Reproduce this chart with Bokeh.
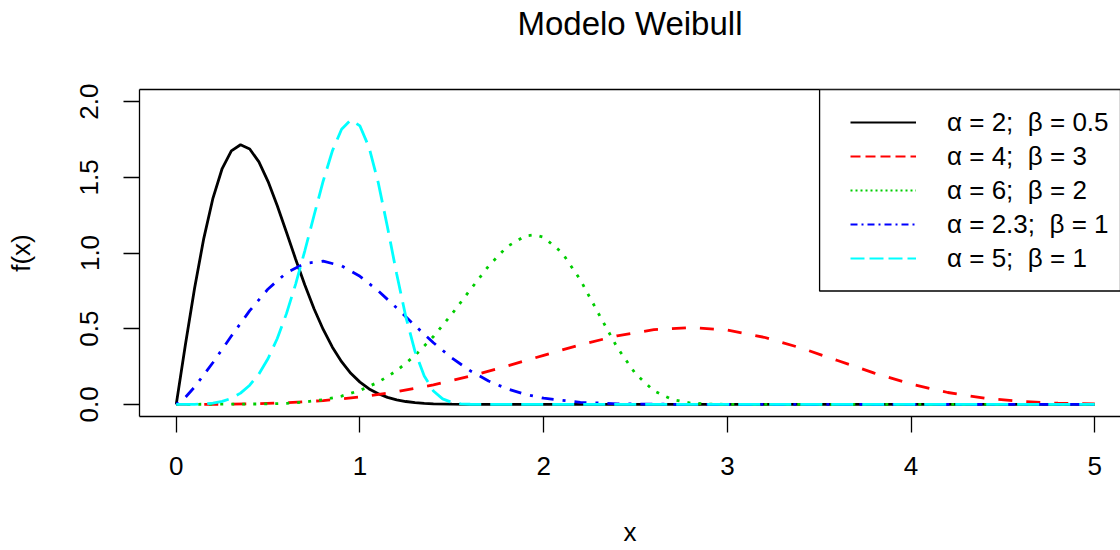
from bokeh.plotting import figure
from bokeh.models import (FixedTicker, PrintfTickFormatter, LinearAxis, Legend,
                          LegendItem, BoxAnnotation, Range1d)
from bokeh.embed import file_html
from bokeh.resources import INLINE

# ---------------- data ----------------
title_text = "Modelo Weibull"
x_label = "x"
y_label = "f(x)"
x_ticks = [0, 1, 2, 3, 4, 5]
y_ticks = [0.0, 0.5, 1.0, 1.5, 2.0]

labels = ["α = 2;  β = 0.5", "α = 4;  β = 3", "α = 6;  β = 2",
          "α = 2.3;  β = 1", "α = 5;  β = 1"]

# alpha=2, beta=0.5
x1 = [0, 0.05, 0.1, 0.15, 0.2, 0.25, 0.3, 0.35, 0.4, 0.45, 0.5, 0.55, 0.6, 0.65,
      0.7, 0.75, 0.8, 0.85, 0.9, 0.95, 1.0, 1.05, 1.1, 1.15, 1.2, 1.25, 1.3,
      1.35, 1.4, 1.5, 1.6, 2.0, 3.0, 4.0, 5.0]
y1 = [0, 0.396, 0.769, 1.097, 1.363, 1.558, 1.674, 1.715, 1.687, 1.602, 1.472,
      1.312, 1.137, 0.959, 0.789, 0.632, 0.495, 0.378, 0.282, 0.205, 0.147,
      0.102, 0.070, 0.046, 0.030, 0.019, 0.012, 0.007, 0.004, 0.0015, 0.0005,
      0, 0, 0, 0]

# alpha=4, beta=3
x2 = [0, 0.2, 0.4, 0.6, 0.8, 1.0, 1.2, 1.4, 1.6, 1.8, 2.0, 2.2, 2.4, 2.6, 2.8,
      3.0, 3.2, 3.4, 3.6, 3.8, 4.0, 4.2, 4.4, 4.6, 4.8, 5.0]
y2 = [0, 0.0004, 0.0032, 0.0107, 0.0252, 0.0488, 0.0832, 0.1292, 0.1866,
      0.2530, 0.3243, 0.3938, 0.4532, 0.4937, 0.5076, 0.4905, 0.4434, 0.3728,
      0.2897, 0.2065, 0.1340, 0.0785, 0.0411, 0.0191, 0.0078, 0.0028]

# alpha=6, beta=2
x3 = [0, 0.5, 0.6, 0.7, 0.8, 0.9, 1.0, 1.1, 1.2, 1.3, 1.4, 1.5, 1.6, 1.7, 1.8,
      1.9, 1.95, 2.0, 2.1, 2.2, 2.3, 2.4, 2.5, 2.6, 2.7, 2.8, 2.9, 3.0, 4.0, 5.0]
y3 = [0, 0.0029, 0.0073, 0.0158, 0.0306, 0.0549, 0.0923, 0.1469, 0.2226,
      0.3228, 0.4482, 0.5958, 0.7564, 0.9129, 1.0412, 1.1130, 1.1196, 1.1036,
      1.0025, 0.8218, 0.5971, 0.3769, 0.2019, 0.0892, 0.0316, 0.0087, 0.0018,
      0.0003, 0, 0]

# alpha=2.3, beta=1
x4 = [0, 0.05, 0.1, 0.2, 0.3, 0.4, 0.5, 0.6, 0.7, 0.8, 0.9, 1.0, 1.1, 1.2, 1.3,
      1.4, 1.5, 1.6, 1.7, 1.8, 1.9, 2.0, 2.2, 2.4, 2.6, 2.8, 3.0, 4.0, 5.0]
y4 = [0, 0.047, 0.1147, 0.2769, 0.4515, 0.6190, 0.7624, 0.8694, 0.9314, 0.9459,
      0.9150, 0.8461, 0.7495, 0.6370, 0.5198, 0.4073, 0.3069, 0.2224, 0.1547,
      0.1036, 0.0666, 0.0411, 0.0139, 0.0040, 0.0010, 0.0002, 0.00004, 0, 0]

# alpha=5, beta=1
x5 = [0, 0.05, 0.1, 0.15, 0.2, 0.25, 0.3, 0.35, 0.4, 0.45, 0.5, 0.55, 0.6, 0.65,
      0.7, 0.75, 0.8, 0.85, 0.9, 0.95, 1.0, 1.05, 1.1, 1.15, 1.2, 1.25, 1.3,
      1.35, 1.4, 1.45, 1.5, 1.55, 1.6, 1.65, 1.7, 2.0, 3.0, 4.0, 5.0]
y5 = [0, 0.00003, 0.0005, 0.0025, 0.0080, 0.0195, 0.0404, 0.0746, 0.1267,
      0.2013, 0.3029, 0.4351, 0.5995, 0.7948, 1.0148, 1.2478, 1.4758, 1.6747,
      1.8176, 1.8785, 1.8394, 1.6961, 1.4626, 1.1704, 0.8611, 0.5770, 0.3485,
      0.1877, 0.0886, 0.0364, 0.0128, 0.0038, 0.0009, 0.0002, 0.00003,
      0, 0, 0, 0]

xs = [x1, x2, x3, x4, x5]
ys = [y1, y2, y3, y4, y5]
colors = ["#000000", "#FF0000", "#00CD00", "#0000FF", "#00FFFF"]
curve_dash = ["solid", "14 14", "3 8", "3 9 12 9", "22 9"]
legend_dash = ["solid", "10 5", "2 3", "7 4 2 4", "14 5"]

FONT = "Liberation Sans"

# ---------------- figure ----------------
p = figure(width=1120, height=550, output_backend="svg", toolbar_location=None,
           x_range=Range1d(-0.2, 5.14), y_range=Range1d(-0.08, 2.08),
           min_border_left=139, min_border_right=0, min_border_top=89,
           min_border_bottom=134, background_fill_color="white",
           border_fill_color="white", outline_line_color=None)
p.xgrid.visible = False
p.ygrid.visible = False

for ax in (p.xaxis[0], p.yaxis[0]):
    ax.major_label_text_font = FONT
    ax.major_label_text_font_size = "26px"
    ax.major_label_text_color = "#000000"
    ax.axis_label_text_font = FONT
    ax.axis_label_text_font_size = "26px"
    ax.axis_label_text_font_style = "normal"
    ax.axis_label_text_color = "#000000"
    ax.axis_line_color = "#000000"
    ax.axis_line_width = 1.3
    ax.major_tick_line_color = "#000000"
    ax.major_tick_line_width = 1.3
    ax.major_tick_out = 16
    ax.major_tick_in = 0
    ax.minor_tick_line_color = None

p.xaxis[0].ticker = FixedTicker(ticks=x_ticks)
p.xaxis[0].axis_label = x_label
p.xaxis[0].major_label_standoff = 24
p.xaxis[0].axis_label_standoff = 39

p.yaxis[0].ticker = FixedTicker(ticks=y_ticks)
p.yaxis[0].formatter = PrintfTickFormatter(format="%.1f")
p.yaxis[0].major_label_orientation = "vertical"
p.yaxis[0].axis_label = y_label
p.yaxis[0].major_label_standoff = 25
p.yaxis[0].axis_label_standoff = 42

# top edge of the box, carrying the chart title
top_axis = LinearAxis(ticker=FixedTicker(ticks=[]), major_label_text_font_size="0px",
                      major_tick_out=0, major_tick_in=0, minor_tick_line_color=None,
                      axis_line_color="#000000", axis_line_width=1.3,
                      axis_label=title_text, axis_label_text_font=FONT,
                      axis_label_text_font_size="33px",
                      axis_label_text_font_style="normal",
                      axis_label_text_color="#000000", axis_label_standoff=48)
p.add_layout(top_axis, "above")

# curves
for xv, yv, c, d in zip(xs, ys, colors, curve_dash):
    p.line(xv, yv, line_color=c, line_width=2.8, line_dash=d)

# legend box
p.add_layout(BoxAnnotation(left=3.502, bottom=0.749, fill_color="white",
                           fill_alpha=1.0, line_color="#000000", line_width=1.3,
                           line_alpha=1.0))

nan = float("nan")
items = []
for lab, c, d in zip(labels, colors, legend_dash):
    r = p.line([nan], [nan], line_color=c, line_width=1.8, line_dash=d)
    items.append(LegendItem(label=lab, renderers=[r]))

leg = Legend(items=items, location=(711, 141), glyph_width=66, glyph_height=20,
             label_standoff=31, label_height=34, spacing=0, padding=0, margin=0,
             border_line_color=None, background_fill_alpha=0.0,
             label_text_font=FONT, label_text_font_size="26px",
             label_text_color="#000000")
p.add_layout(leg, "center")

open("out.html", "w").write(file_html(p, INLINE))
